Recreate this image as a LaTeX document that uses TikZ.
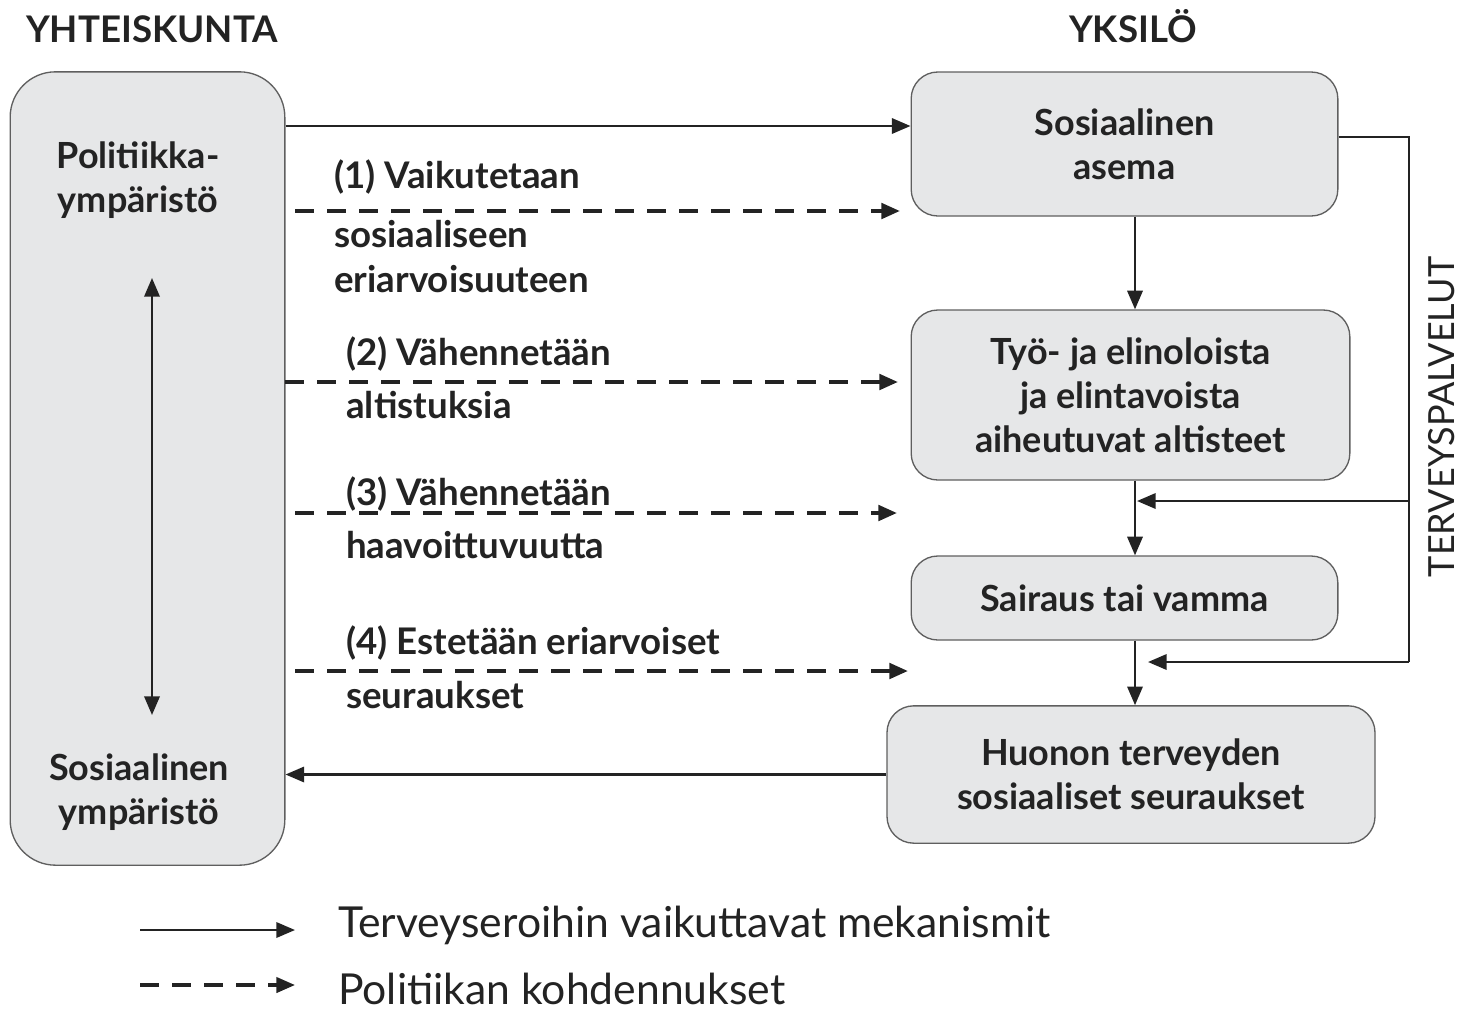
\documentclass[tikz,border=0pt]{standalone}
\usepackage{fontspec}
\setmainfont{Lato}
\usetikzlibrary{arrows.meta}

\definecolor{boxfill}{RGB}{230,231,232}
\definecolor{boxline}{RGB}{95,95,95}
\definecolor{ink}{RGB}{35,35,35}

\tikzset{
  box/.style={draw=boxline, fill=boxfill, line width=1pt, rounded corners=20pt,
    align=center, text=ink, font=\bfseries\fontsize{27}{33}\selectfont},
  lbl/.style={anchor=base west, inner sep=0pt, text=ink,
    font=\bfseries\fontsize{27.5}{33}\selectfont},
  mech/.style={draw=ink, line width=1.8pt, -{Triangle[length=14pt,width=11.5pt]}},
  pol/.style={mech, line width=3pt, dash pattern=on 14pt off 10pt},
}

\begin{document}
\begin{tikzpicture}[x=0.75pt,y=0.75pt,yscale=-1,xscale=1]
\path[use as bounding box] (0,0) rectangle (1462,1011);

% titles
\node[lbl, anchor=base] (yht) at (152,42) {YHTEISKUNTA};
\node[lbl, anchor=base] (yks) at (1133,42) {YKSILÖ};

% society box
\node[box, rounded corners=34pt, minimum width=206pt, minimum height=595pt] (soc) at (147.5,468.5) {};
\node[box, draw=none, fill=none] (polenv) at (138,180) {Politiikka-\\ympäristö};
\node[box, draw=none, fill=none] (socenv) at (139,792) {Sosiaalinen\\ympäristö};

% individual boxes
\node[box, minimum width=320pt, minimum height=108pt] (asema) at (1124.5,144) {Sosiaalinen\\asema};
\node[box, minimum width=329pt, minimum height=127.5pt] (alt) at (1130.5,395) {Työ- ja elinoloista\\ja elintavoista\\aiheutuvat altisteet};
\node[box, minimum width=320pt, minimum height=63pt] (sair) at (1124.5,598) {Sairaus tai vamma};
\node[box, minimum width=366pt, minimum height=103pt] (seur) at (1131,774.5) {Huonon terveyden\\sosiaaliset seuraukset};

\node[anchor=center, rotate=90, inner sep=0pt, text=ink, font=\fontsize{27}{30}\selectfont] (tpl) at (1442,417) {TERVEYSPALVELUT};

% helper points
\coordinate (vx) at (1135,0);
\coordinate (top) at (600,126);
\coordinate (fb) at (1409,137);
\coordinate (br1) at (1137,501);
\coordinate (br2) at (1148,662);
\coordinate (vt) at (152,278);
\coordinate (vb) at (152,715);

% mechanisms
\draw[mech] (soc.east |- top) -- (asema.west |- top);
\draw[mech] (seur.west) -- (soc.east |- seur.west);
\draw[mech] (asema.south -| vx) -- (alt.north -| vx);
\draw[mech] (alt.south -| vx) -- (sair.north -| vx);
\draw[mech] (sair.south -| vx) -- (seur.north -| vx);
\draw[mech, {Triangle[length=14pt,width=11.5pt]}-{Triangle[length=14pt,width=11.5pt]}] (vt) -- (vb);

% health services feedback
\draw[draw=ink, line width=1.8pt] (asema.east |- fb) -- (fb) -- (fb |- br2);
\draw[mech] (fb |- br1) -- (br1);
\draw[mech] (fb |- br2) -- (br2);

% policy entry points
\coordinate (d1s) at (295,211);  \coordinate (d1e) at (900,211);
\coordinate (d2s) at (285,382);  \coordinate (d2e) at (898,382);
\coordinate (d3s) at (295,513);  \coordinate (d3e) at (897,513);
\coordinate (d4s) at (295,671);  \coordinate (d4e) at (908,671);
\draw[pol] (d1s) -- (d1e);
\draw[pol] (d2s) -- (d2e);
\draw[pol] (d3s) -- (d3e);
\draw[pol] (d4s) -- (d4e);

\node[lbl] (p1a) at (334,188) {(1) Vaikutetaan};
\node[lbl] (p1b) at (334,247) {sosiaaliseen};
\node[lbl] (p1c) at (334,292) {eriarvoisuuteen};
\node[lbl] (p2a) at (346,365) {(2) Vähennetään};
\node[lbl] (p2b) at (346,418) {altistuksia};
\node[lbl] (p3a) at (346,505) {(3) Vähennetään};
\node[lbl] (p3b) at (346,558) {haavoittuvuutta};
\node[lbl] (p4a) at (346,654) {(4) Estetään eriarvoiset};
\node[lbl] (p4b) at (346,708) {seuraukset};

% legend
\coordinate (l1s) at (140,930);  \coordinate (l1e) at (295,930);
\coordinate (l2s) at (140,985);  \coordinate (l2e) at (295,985);
\draw[mech] (l1s) -- (l1e);
\draw[pol, line width=2.4pt] (l2s) -- (l2e);
\node[lbl, font=\fontsize{32}{36}\selectfont] (leg1) at (338,937) {Terveyseroihin vaikuttavat mekanismit};
\node[lbl, font=\fontsize{32}{36}\selectfont] (leg2) at (338,1004) {Politiikan kohdennukset};

\end{tikzpicture}
\end{document}
